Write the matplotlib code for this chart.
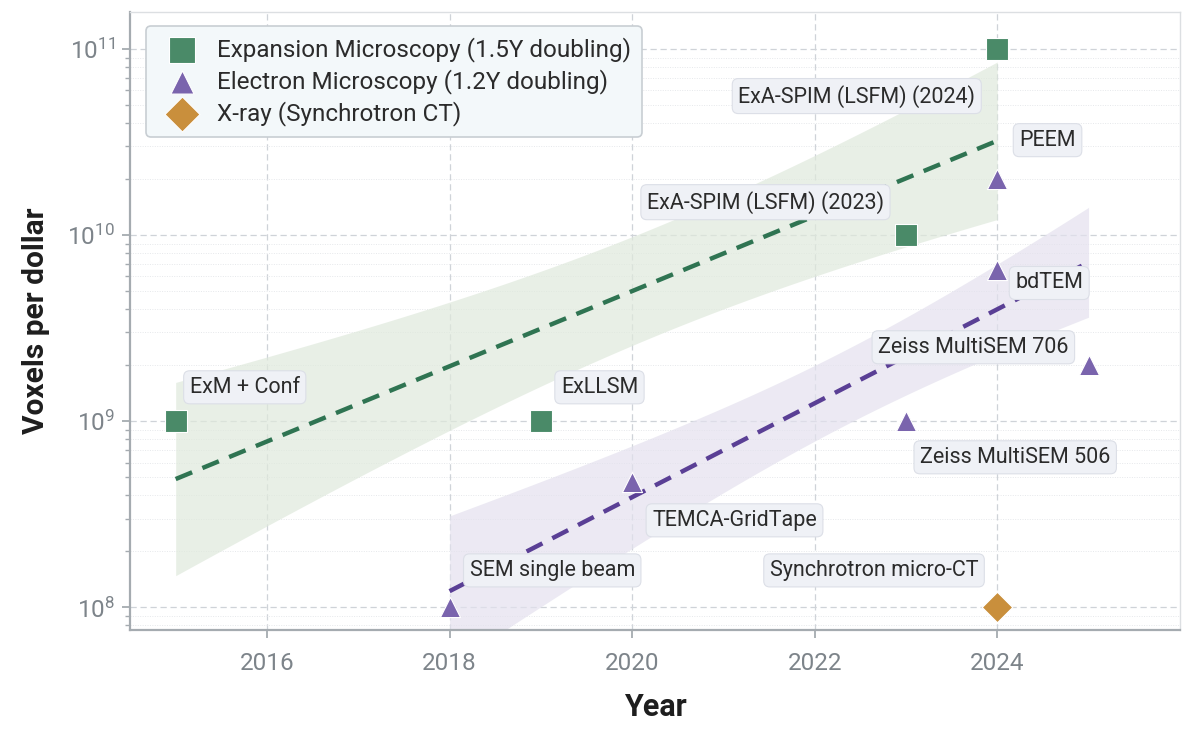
import matplotlib
matplotlib.use("Agg")
import matplotlib.pyplot as plt
import numpy as np
from matplotlib.ticker import LogLocator, NullFormatter

plt.rcParams["font.family"] = ["Roboto", "DejaVu Sans"]
plt.rcParams["mathtext.fontset"] = "custom"
plt.rcParams["mathtext.rm"] = "Roboto"
plt.rcParams["mathtext.it"] = "Roboto:italic"
plt.rcParams["mathtext.bf"] = "Roboto:bold"

# --- data -------------------------------------------------------------
exm_year = [2015, 2019, 2023, 2024]
exm_vox = [1e9, 1e9, 1e10, 1e11]
exm_names = ["ExM + Conf", "ExLLSM", "ExA-SPIM (LSFM) (2023)", "ExA-SPIM (LSFM) (2024)"]

em_year = [2018, 2020, 2023, 2024, 2024, 2025]
em_vox = [1e8, 4.7e8, 1e9, 6.5e9, 2e10, 2e9]
em_names = ["SEM single beam", "TEMCA-GridTape", "Zeiss MultiSEM 506", "bdTEM",
            "PEEM", "Zeiss MultiSEM 706"]

xray_year = [2024]
xray_vox = [1e8]
xray_names = ["Synchrotron micro-CT"]

# label offsets (pixels) and alignment
exm_offsets = [((14, 34), "left"), ((20, 34), "left"), ((-22, 33), "right"), ((-22, -47), "right")]
em_offsets = [((20, 37), "left"), ((20, -38), "left"), ((14, -36), "left"), ((18, -13), "left"),
              ((22, 39), "left"), ((-20, 18), "right")]
xray_offsets = [((-19, 37), "right")]

GREEN = "#4a8a68"
GREEN_LINE = "#2f7452"
PURPLE = "#7a64ad"
PURPLE_LINE = "#5a3f95"
ORANGE = "#c98f3c"


def fit_band(x, y):
    """log-linear fit with +-1 standard error of the mean prediction."""
    x = np.asarray(x, float)
    ly = np.log10(y)
    slope, icpt = np.polyfit(x, ly, 1)
    n = len(x)
    resid = ly - (slope * x + icpt)
    s = np.sqrt((resid ** 2).sum() / (n - 2))
    sxx = ((x - x.mean()) ** 2).sum()
    xs = np.linspace(x.min(), x.max(), 200)
    pred = slope * xs + icpt
    se = s * np.sqrt(1 / n + (xs - x.mean()) ** 2 / sxx)
    return xs, 10 ** pred, 10 ** (pred - se), 10 ** (pred + se)


fig = plt.figure(figsize=(11.93, 7.40), dpi=100)
ax = fig.add_axes([0.109, 0.149, 0.880, 0.835])
ax.set_yscale("log")

for xv, yv, fill, line in [(exm_year, exm_vox, "#dfe9dc", GREEN_LINE),
                           (em_year, em_vox, "#e4e1ee", PURPLE_LINE)]:
    xs, mid, lo, hi = fit_band(xv, yv)
    ax.fill_between(xs, lo, hi, color=fill, alpha=0.7, lw=0, zorder=1)
    ax.plot(xs, mid, ls=(0, (4, 2.5)), color=line, lw=3.2, zorder=2)

ax.scatter(exm_year, exm_vox, marker="s", s=250, color=GREEN, edgecolor="white",
           linewidth=0.8, zorder=4, label="Expansion Microscopy (1.5Y doubling)")
ax.scatter(em_year, em_vox, marker="^", s=210, color=PURPLE, edgecolor="white",
           linewidth=0.8, zorder=4, label="Electron Microscopy (1.2Y doubling)")
ax.scatter(xray_year, xray_vox, marker="D", s=240, color=ORANGE, edgecolor="white",
           linewidth=0.8, zorder=4, label="X-ray (Synchrotron CT)")

box = dict(boxstyle="round,pad=0.28", fc="#eff1f6", ec="#dcdfe7", lw=0.8)
for years, vals, names, offs in [(exm_year, exm_vox, exm_names, exm_offsets),
                                 (em_year, em_vox, em_names, em_offsets),
                                 (xray_year, xray_vox, xray_names, xray_offsets)]:
    for xv, yv, name, (off, ha) in zip(years, vals, names, offs):
        ax.annotate(name, (xv, yv), xytext=off, textcoords="offset pixels",
                    ha=ha, va="center", fontsize=15.5, color="#2b2b2b",
                    bbox=box, zorder=5)

ax.set_xlim(2014.5, 2026)
ax.set_ylim(10 ** 7.88, 10 ** 11.2)
ax.set_xticks([2016, 2018, 2020, 2022, 2024])
ax.yaxis.set_major_locator(LogLocator(base=10, numticks=10))
ax.yaxis.set_minor_locator(LogLocator(base=10, subs=np.arange(2, 10), numticks=20))
ax.yaxis.set_minor_formatter(NullFormatter())

ax.grid(which="major", ls=(0, (5, 3)), color="#cfd3d8", lw=0.9)
ax.grid(which="minor", axis="y", ls=(0, (1, 1.5)), color="#e6e8eb", lw=0.7)
ax.set_axisbelow(True)

for side in ("left", "bottom"):
    ax.spines[side].set_color("#a5abb0")
    ax.spines[side].set_linewidth(1.6)
for side in ("top", "right"):
    ax.spines[side].set_color("#dcdfe2")
    ax.spines[side].set_linewidth(1.0)

ax.tick_params(axis="both", which="major", labelsize=17.5, colors="#a5abb0",
               labelcolor="#7d848a", length=6, width=1.3)
ax.tick_params(axis="y", which="minor", colors="#a5abb0", length=3.5, width=1)
ax.tick_params(axis="x", pad=10)
ax.tick_params(axis="y", pad=5)

ax.set_xlabel("Year", fontsize=22, fontweight="bold", color="#1e1e1e", labelpad=12)
ax.set_ylabel("Voxels per dollar", fontsize=21.5, fontweight="bold", color="#1e1e1e",
              labelpad=12)

leg = ax.legend(loc="upper left", fontsize=17.5, frameon=True, fancybox=True,
                borderpad=0.45, handletextpad=0.45, labelspacing=0.3,
                markerscale=1.15, bbox_to_anchor=(0.004, 0.997))
leg.get_frame().set_facecolor("#f3f8fa")
leg.get_frame().set_edgecolor("#c8ced3")
leg.get_frame().set_linewidth(1.2)
leg.get_frame().set_alpha(1)
for t in leg.get_texts():
    t.set_color("#2b2b2b")

fig.savefig("out.png", dpi=100)
